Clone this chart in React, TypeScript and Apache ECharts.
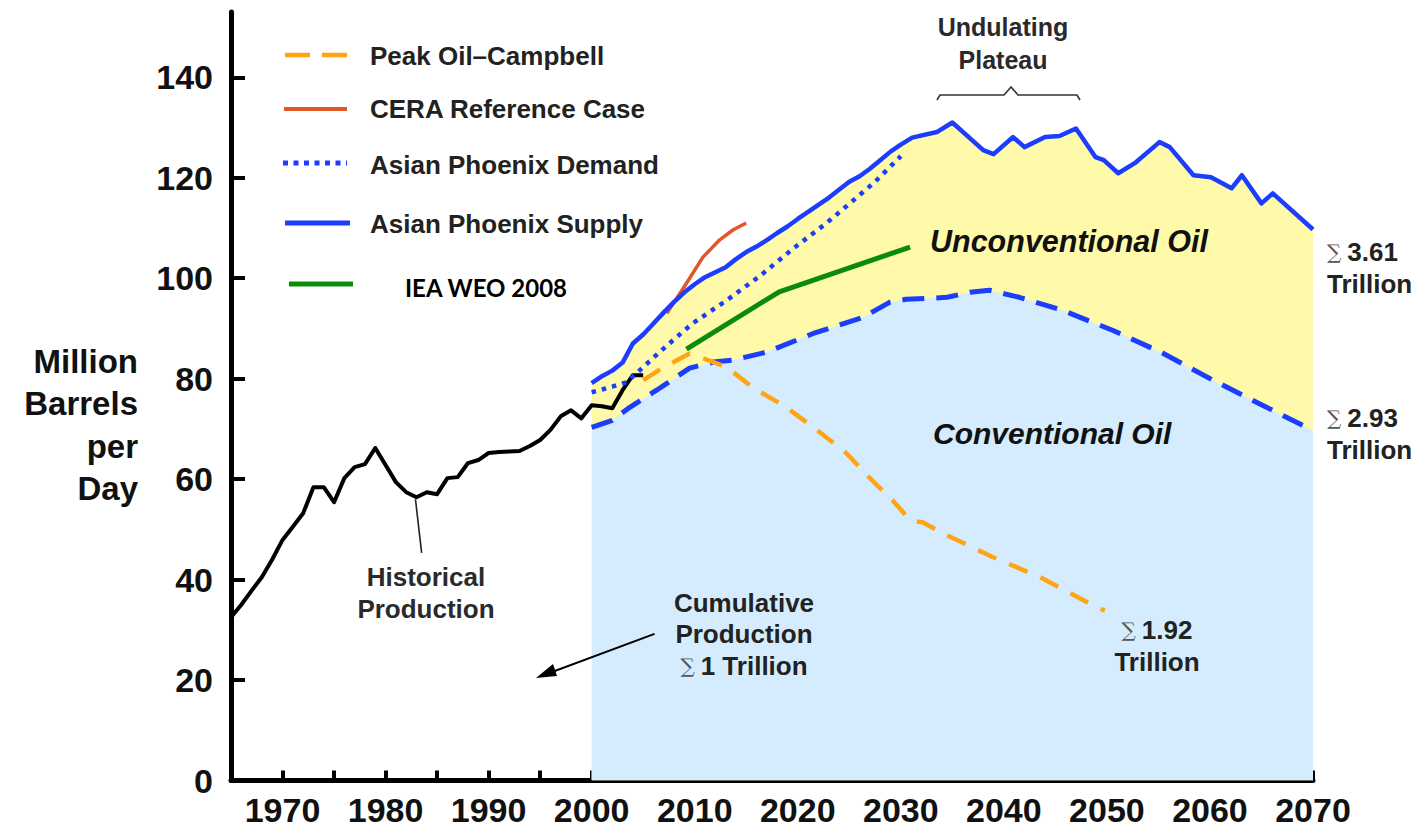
import React, { useEffect, useRef } from "react";
import * as echarts from "echarts";

// ---------- data ----------
const historicalYears = [
  1965, 1966, 1967, 1968, 1969, 1970, 1971, 1972, 1973, 1974, 1975, 1976, 1977, 1978, 1979, 1980,
  1981, 1982, 1983, 1984, 1985, 1986, 1987, 1988, 1989, 1990, 1991, 1992, 1993, 1994, 1995, 1996,
  1997, 1998, 1999, 2000, 2001, 2002, 2003, 2004, 2005,
];
const historicalValues = [
  32.5, 35, 37.8, 40.5, 44, 47.9, 50.5, 53.2, 58.4, 58.4, 55.4, 60.2, 62.4, 63.0, 66.2, 62.8,
  59.4, 57.4, 56.4, 57.4, 57.0, 60.2, 60.4, 63.2, 63.8, 65.2, 65.4, 65.5, 65.6, 66.6, 67.8, 69.8,
  72.5, 73.7, 72.1, 74.7, 74.5, 74.1, 77.7, 80.7, 80.7,
];

const peakYears = [2005, 2007, 2009.5, 2011.8, 2013.1, 2015.6, 2018.9, 2022.1, 2024.7, 2026.9, 2029.2, 2030.9, 2032.1, 2034.5, 2038.9, 2043.5, 2048, 2049.8];
const peakValues = [79.7, 82.3, 85, 83.3, 82.3, 78.3, 74.3, 69.4, 65.2, 60.4, 55.8, 51.8, 51.4, 48.8, 44.5, 40.5, 35.6, 33.8];

const ceraYears = [2007.3, 2009.2, 2010.8, 2012.4, 2013.7, 2015];
const ceraValues = [93, 99, 104.2, 107.6, 109.6, 111];

const demandYears = [2000, 2002, 2003.4, 2005, 2006.6, 2008.2, 2009.8, 2013.1, 2016.3, 2019.5, 2022.8, 2025, 2027.5, 2030];
const demandValues = [77.3, 78.4, 79.3, 82.3, 85.3, 88.2, 91, 95.6, 100.4, 105.8, 111, 114.8, 119.2, 124.3];

const supplyYears = [
  2000, 2001, 2002, 2003, 2004, 2005, 2006, 2007, 2008, 2009, 2010, 2011, 2012, 2013, 2014, 2015,
  2016, 2017, 2018, 2019, 2020, 2021, 2022, 2023, 2024, 2025, 2026, 2027, 2028, 2029, 2030, 2031.1,
  2033.5, 2035, 2038, 2039, 2040.9, 2042, 2044, 2045.4, 2047, 2048.9, 2049.7, 2051.1, 2052.7, 2055.1,
  2056.1, 2058.4, 2060.1, 2062.1, 2063.1, 2065, 2066.1, 2070,
];
const supplyValues = [
  79.1, 80.5, 81.6, 83.2, 87, 88.8, 91, 93.2, 95.3, 97.2, 98.8, 100.2, 101.2, 102.2, 103.8, 105.2,
  106.3, 107.6, 109, 110.3, 111.8, 113.2, 114.6, 116, 117.6, 119.2, 120.3, 121.8, 123.5, 125.2, 126.6, 128,
  129.1, 131, 125.5, 124.7, 128.1, 126.1, 128.1, 128.3, 129.8, 124.1, 123.5, 120.9, 122.9, 127.1,
  126.1, 120.5, 120.1, 117.9, 120.5, 114.9, 116.9, 109.7,
];

const conventionalYears = [2000, 2002, 2003.7, 2006.3, 2009.5, 2011.8, 2013.7, 2017, 2021.5, 2026.3, 2028.9, 2030.5, 2032.8, 2034.5, 2036.7, 2038.6, 2041.5, 2045.7, 2050.6, 2055.4, 2060.3, 2065.1, 2070];
const conventionalValues = [70.3, 71.7, 74.3, 77.7, 82.1, 83.3, 83.7, 85.3, 89, 92.2, 95.2, 95.8, 96, 96.2, 97.2, 97.6, 96.2, 93.6, 89.6, 85.1, 79.7, 74.7, 69.7];

const ieaYears = [2009.2, 2018.2, 2030.9];
const ieaValues = [85.9, 97.3, 106.2];

const yTickValues = [0, 20, 40, 60, 80, 100, 120, 140];

const legendNames = ["Peak Oil\u2013Campbell", "CERA Reference Case", "Asian Phoenix Demand", "Asian Phoenix Supply", "IEA WEO 2008"];

const zip = (xs: number[], ys: number[]) => xs.map((x, i) => [x, ys[i]]);

const BLUE = "#1c3dfb";
const ORANGE = "#FFA515";
const CERA = "#E2572A";
const GREEN = "#0a8c0a";
const FONT = '"Liberation Sans", Arial, Helvetica, sans-serif';

export default function App() {
  const ref = useRef<HTMLDivElement>(null);

  useEffect(() => {
    if (!ref.current) return;
    const chart = echarts.init(ref.current, undefined, { renderer: "svg" });

    const textStyle = (extra: any) => ({
      fontFamily: FONT,
      fontWeight: "bold",
      fontSize: 26,
      fill: "#222",
      ...extra,
    });
    const sigmaRich = {
      s: { fontFamily: "DejaVu Serif, serif", fontWeight: "normal", fontSize: 20, fill: "#555", padding: [0, 6, 0, 0] },
      n: { fontFamily: FONT, fontWeight: "bold", fontSize: 26, fill: "#222" },
    };

    const legendLines = [
      { y: 55, x1: 285, x2: 347, stroke: ORANGE, lineDash: [25, 12], lineWidth: 4.5 },
      { y: 109, x1: 284, x2: 347, stroke: CERA, lineDash: null, lineWidth: 4 },
      { y: 163, x1: 283, x2: 347, stroke: BLUE, lineDash: [5, 5.5], lineWidth: 5 },
      { y: 223, x1: 285, x2: 350, stroke: BLUE, lineDash: null, lineWidth: 5 },
      { y: 284, x1: 289, x2: 353, stroke: GREEN, lineDash: null, lineWidth: 5 },
    ];
    const legendTextY = [56, 109, 165, 224];

    const graphic: any[] = [];
    legendLines.forEach((l) => {
      graphic.push({
        type: "line",
        z: 100,
        shape: { x1: l.x1, y1: l.y, x2: l.x2, y2: l.y },
        style: { stroke: l.stroke, lineWidth: l.lineWidth, lineDash: l.lineDash || undefined },
        silent: true,
      });
    });
    legendTextY.forEach((y, i) => {
      graphic.push({
        type: "text",
        z: 100,
        x: 370,
        y,
        style: textStyle({ text: legendNames[i], textVerticalAlign: "middle", textAlign: "left" }),
      });
    });
    graphic.push({
      type: "text",
      z: 100,
      x: 405,
      y: 287,
      style: {
        text: legendNames[4],
        fontFamily: "Lato, 'Open Sans', sans-serif",
        fontWeight: "bold",
        fontSize: 24,
        fill: "#000",
        textVerticalAlign: "middle",
        textAlign: "left",
      },
    });

    // y axis name
    graphic.push({
      type: "text",
      z: 100,
      x: 138,
      y: 340,
      style: {
        text: "Million\nBarrels\nper\nDay",
        fontFamily: FONT,
        fontWeight: "bold",
        fontSize: 33,
        lineHeight: 42.5,
        fill: "#111",
        textAlign: "right",
        textVerticalAlign: "top",
      },
    });

    // annotations
    graphic.push({
      type: "text",
      z: 100,
      x: 426,
      y: 593,
      style: textStyle({ text: "Historical\nProduction", lineHeight: 32, textAlign: "center", textVerticalAlign: "middle", fill: "#2a2a2a" }),
    });
    graphic.push({
      type: "text",
      z: 100,
      x: 744,
      y: 634,
      style: {
        text: "{n|Cumulative}\n{n|Production}\n{s|\u2211}{n|1 Trillion}",
        rich: sigmaRich,
        lineHeight: 31.5,
        textAlign: "center",
        textVerticalAlign: "middle",
      },
    });
    graphic.push({
      type: "text",
      z: 100,
      x: 1003,
      y: 43,
      style: textStyle({ text: "Undulating\nPlateau", lineHeight: 33, fontSize: 25, textAlign: "center", textVerticalAlign: "middle", fill: "#2a2a2a" }),
    });
    graphic.push({
      type: "polyline",
      z: 100,
      shape: {
        points: [
          [937, 100], [940, 95], [1004, 95], [1011, 87], [1018, 95], [1077, 95], [1080, 100],
        ],
      },
      style: { stroke: "#333", lineWidth: 1.6, fill: "none" },
      silent: true,
    });
    graphic.push({
      type: "text",
      z: 100,
      x: 930,
      y: 241,
      style: {
        text: "Unconventional Oil",
        fontFamily: FONT,
        fontWeight: "bold",
        fontStyle: "italic",
        fontSize: 30.5,
        fill: "#111",
        textAlign: "left",
        textVerticalAlign: "middle",
      },
    });
    graphic.push({
      type: "text",
      z: 100,
      x: 933,
      y: 433,
      style: {
        text: "Conventional Oil",
        fontFamily: FONT,
        fontWeight: "bold",
        fontStyle: "italic",
        fontSize: 30,
        fill: "#111",
        textAlign: "left",
        textVerticalAlign: "middle",
      },
    });
    const sumLabels = [
      { x: 1327, y: 268, v: "3.61", align: "left" },
      { x: 1327, y: 434, v: "2.93", align: "left" },
      { x: 1157, y: 646, v: "1.92", align: "center" },
    ];
    sumLabels.forEach((s) => {
      graphic.push({
        type: "text",
        z: 100,
        x: s.x,
        y: s.y,
        style: {
          text: `{s|\u2211}{n|${s.v}}\n{n|Trillion}`,
          rich: sigmaRich,
          lineHeight: 32,
          textAlign: s.align,
          textVerticalAlign: "middle",
        },
      });
    });
    // arrow head for the cumulative-production pointer
    graphic.push({
      type: "polygon",
      z: 100,
      shape: { points: [[536, 678], [553, 664], [557, 676]] },
      style: { fill: "#000" },
      silent: true,
    });

    const lineSeries = (name: string, data: number[][], color: string, width: number, type: any, z = 3) => ({
      name,
      type: "line",
      data,
      showSymbol: false,
      symbol: "none",
      smooth: false,
      z,
      lineStyle: { color, width, type, cap: "butt", join: "round" },
      emphasis: { disabled: true },
    });

    chart.setOption({
      animation: false,
      backgroundColor: "#ffffff",
      grid: { left: 231, right: 109, top: 12, bottom: 49.5, containLabel: false },
      xAxis: {
        type: "value",
        min: 1965,
        max: 2070,
        interval: 5,
        axisLine: { show: true, lineStyle: { color: "#000", width: 5 } },
        axisTick: { show: true, inside: true, length: 10, lineStyle: { color: "#000", width: 4 } },
        splitLine: { show: false },
        axisLabel: {
          margin: 12,
          fontFamily: FONT,
          fontWeight: "bold",
          fontSize: 34,
          color: "#111",
          formatter: (v: number) => (v % 10 === 0 && v >= 1970 ? String(v) : ""),
        },
      },
      yAxis: {
        type: "value",
        min: 0,
        max: 153,
        interval: 20,
        axisLine: { show: true, lineStyle: { color: "#000", width: 5 } },
        axisTick: {
          show: true,
          inside: true,
          length: 14,
          customValues: yTickValues,
          lineStyle: { color: "#000", width: 4 },
        },
        splitLine: { show: false },
        axisLabel: {
          margin: 18,
          fontFamily: FONT,
          fontWeight: "bold",
          fontSize: 34,
          color: "#111",
          customValues: yTickValues,
          formatter: (v: number) => (v % 20 === 0 ? String(v) : ""),
        },
      },
      graphic,
      series: [
        {
          name: "Unconventional area",
          type: "line",
          data: zip(supplyYears, supplyValues),
          showSymbol: false,
          symbol: "none",
          z: 1,
          lineStyle: { width: 0, opacity: 0 },
          areaStyle: { color: "#fffaa9", opacity: 1 },
          emphasis: { disabled: true },
        },
        {
          name: "Conventional area",
          type: "line",
          data: zip(conventionalYears, conventionalValues),
          showSymbol: false,
          symbol: "none",
          z: 1,
          lineStyle: { width: 0, opacity: 0 },
          areaStyle: { color: "#d4ecfd", opacity: 1 },
          emphasis: { disabled: true },
        },
        lineSeries("Historical Production", zip(historicalYears, historicalValues), "#000", 4, "solid"),
        lineSeries("Conventional Oil", zip(conventionalYears, conventionalValues), BLUE, 5, [22, 12]),
        lineSeries(legendNames[0], zip(peakYears, peakValues), ORANGE, 4.5, [20, 14]),
        lineSeries(legendNames[1], zip(ceraYears, ceraValues), CERA, 3.5, "solid"),
        lineSeries(legendNames[2], zip(demandYears, demandValues), BLUE, 4.5, [4.5, 6]),
        lineSeries(legendNames[3], zip(supplyYears, supplyValues), BLUE, 4.5, "solid"),
        lineSeries(legendNames[4], zip(ieaYears, ieaValues), GREEN, 5, "solid"),
        {
          name: "arrow",
          type: "line",
          data: [],
          z: 4,
          markLine: {
            silent: true,
            animation: false,
            symbol: ["none", "none"],
            label: { show: false },
            lineStyle: { color: "#000", width: 2, type: "solid" },
            data: [[{ coord: [2006.1, 29.2] }, { coord: [1995.5, 21.1] }]],
          },
        },
        {
          name: "pointer",
          type: "line",
          data: [],
          z: 4,
          markLine: {
            silent: true,
            animation: false,
            symbol: ["none", "none"],
            label: { show: false },
            lineStyle: { color: "#222", width: 1.6, type: "solid" },
            data: [[{ coord: [1982.9, 56] }, { coord: [1983.5, 45.3] }]],
          },
        },
      ],
    });

    return () => chart.dispose();
  }, []);

  return (
    <div
      ref={ref}
      style={{ position: "absolute", left: 0, top: 0, width: 1422, height: 830, background: "#fff" }}
    />
  );
}
